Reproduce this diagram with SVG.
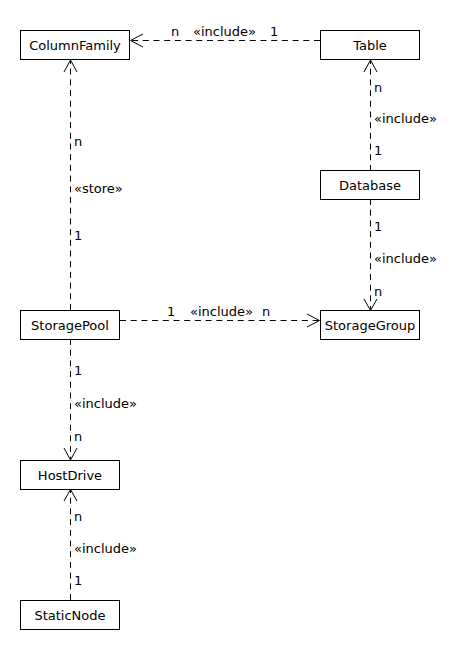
<svg xmlns="http://www.w3.org/2000/svg" width="470" height="650" viewBox="0 0 470 650">
<style>
.box{fill:#fff;stroke:#000;stroke-width:1}
.nt{font-family:"DejaVu Sans",sans-serif;font-size:13px;fill:#000;text-anchor:middle}
.lb{font-family:"DejaVu Sans",sans-serif;font-size:13px;fill:#000}
.dash{fill:none;stroke:#000;stroke-width:1;stroke-dasharray:6 4.7}
.head{fill:none;stroke:#000;stroke-width:1}
</style>
<rect width="470" height="650" fill="#fff"/>
<g id="connectors">
  <!-- Table -> ColumnFamily -->
  <line class="dash" x1="320" y1="40.5" x2="131" y2="40.5"/>
  <polyline class="head" points="143,34 130.5,40.5 143,47"/>
  <text class="lb" x="171" y="35.5">n</text>
  <text class="lb" x="193" y="35.5">«include»</text>
  <text class="lb" x="270" y="35.5">1</text>
  <!-- StoragePool -> ColumnFamily -->
  <line class="dash" x1="70.5" y1="310" x2="70.5" y2="61"/>
  <polyline class="head" points="64,72 70.5,60 77,72"/>
  <text class="lb" x="74" y="145.5">n</text>
  <text class="lb" x="74" y="192.5">«store»</text>
  <text class="lb" x="74" y="239.5">1</text>
  <!-- Database -> Table -->
  <line class="dash" x1="370.5" y1="171" x2="370.5" y2="61"/>
  <polyline class="head" points="364,72 370.5,60 377,72"/>
  <text class="lb" x="374" y="91.5">n</text>
  <text class="lb" x="374" y="122.5">«include»</text>
  <text class="lb" x="374" y="154.5">1</text>
  <!-- Database -> StorageGroup -->
  <line class="dash" x1="370.5" y1="199" x2="370.5" y2="309"/>
  <polyline class="head" points="364,299 370.5,310.5 377,299"/>
  <text class="lb" x="374" y="230.5">1</text>
  <text class="lb" x="374" y="262.5">«include»</text>
  <text class="lb" x="374" y="295.5">n</text>
  <!-- StoragePool -> StorageGroup -->
  <line class="dash" x1="120" y1="320.5" x2="319" y2="320.5"/>
  <polyline class="head" points="307,314 319.5,320.5 307,327"/>
  <text class="lb" x="167" y="315.5">1</text>
  <text class="lb" x="190" y="315.5">«include»</text>
  <text class="lb" x="262" y="315.5">n</text>
  <!-- StoragePool -> HostDrive -->
  <line class="dash" x1="70.5" y1="339" x2="70.5" y2="459"/>
  <polyline class="head" points="64,448 70.5,460 77,448"/>
  <text class="lb" x="74" y="374.5">1</text>
  <text class="lb" x="74" y="407.5">«include»</text>
  <text class="lb" x="74" y="440.5">n</text>
  <!-- StaticNode -> HostDrive -->
  <line class="dash" x1="70.5" y1="600" x2="70.5" y2="490"/>
  <polyline class="head" points="64,501 70.5,489.5 77,501"/>
  <text class="lb" x="74" y="520.5">n</text>
  <text class="lb" x="74" y="552.5">«include»</text>
  <text class="lb" x="74" y="584.5">1</text>
</g>
<g id="ColumnFamily">
  <rect class="box" x="20.5" y="30.5" width="109" height="29"/>
  <text class="nt" x="75" y="49.5">ColumnFamily</text>
</g>
<g id="Table">
  <rect class="box" x="320.5" y="30.5" width="99" height="29"/>
  <text class="nt" x="370" y="49.5">Table</text>
</g>
<g id="Database">
  <rect class="box" x="320.5" y="170.5" width="99" height="29"/>
  <text class="nt" x="370" y="189.5">Database</text>
</g>
<g id="StoragePool">
  <rect class="box" x="20.5" y="310.5" width="99" height="29"/>
  <text class="nt" x="70" y="329.5">StoragePool</text>
</g>
<g id="StorageGroup">
  <rect class="box" x="320.5" y="310.5" width="99" height="29"/>
  <text class="nt" x="370" y="329.5">StorageGroup</text>
</g>
<g id="HostDrive">
  <rect class="box" x="20.5" y="460.5" width="99" height="29"/>
  <text class="nt" x="70" y="479.5">HostDrive</text>
</g>
<g id="StaticNode">
  <rect class="box" x="20.5" y="600.5" width="99" height="29"/>
  <text class="nt" x="70" y="619.5">StaticNode</text>
</g>
</svg>
